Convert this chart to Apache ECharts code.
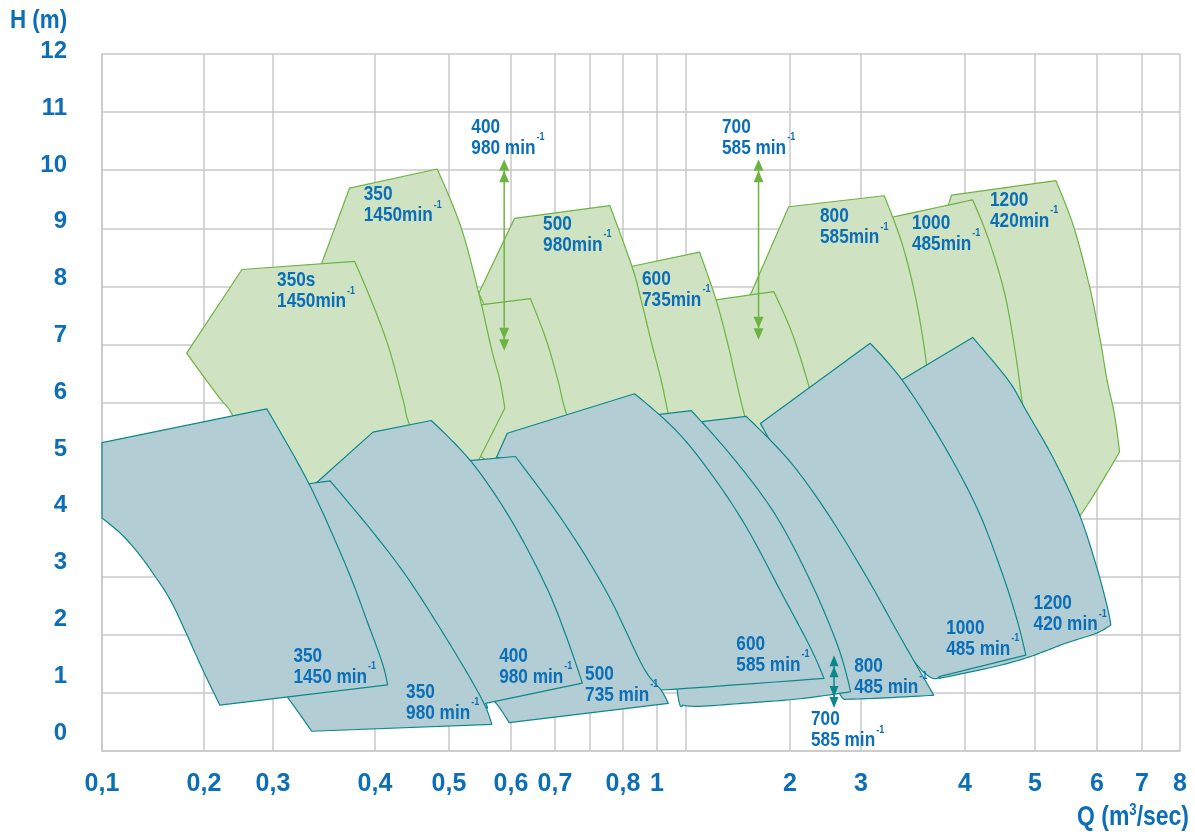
<!DOCTYPE html>
<html>
<head>
<meta charset="utf-8">
<script src="https://cdn.jsdelivr.net/npm/echarts@6/dist/echarts.min.js"></script>
<style>
  html, body { margin: 0; padding: 0; background: #fff; }
  #chart { width: 1195px; height: 836px; }
</style>
</head>
<body>
<div id="chart"></div>
<script>
// ---- Q axis: grid-line values and their spacing along the printed Q scale ----
const Q_GRID  = [0.1, 0.2, 0.3, 0.4, 0.5, 0.6, 0.7, 0.75, 0.8, 1, 1.2, 2, 3, 4, 5, 6, 7, 8];
const Q_SCALE = [0, 102, 171, 273, 347, 409, 453, 488, 521, 555, 584, 688, 759, 863, 933, 995, 1040, 1078];
const Q_TICKS = [0.1, 0.2, 0.3, 0.4, 0.5, 0.6, 0.7, 0.8, 1, 2, 3, 4, 5, 6, 7, 8];
const Q_TICK_LABELS = ['0,1', '0,2', '0,3', '0,4', '0,5', '0,6', '0,7', '0,8', '1', '2', '3', '4', '5', '6', '7', '8'];
const H_MIN = 0, H_MAX = 12, H_STEP = 1;

// ---- Operating fields, [Q m3/s, H m] outlines (green: upper fields) ----
const G_1200_420  = [[3.870,9.57],[5.337,9.82],[5.623,9.03],[5.881,7.99],[6.071,7.08],[6.222,6.39],[6.384,5.81],[6.502,5.15],[5.710,4.03],[5.242,3.63],[3.952,5.18],[3.760,9.14],[3.837,9.40]];
const G_1000_485  = [[3.326,9.20],[4.110,9.49],[4.339,8.80],[4.566,7.88],[4.714,6.90],[4.814,6.04],[4.871,5.70],[4.500,5.18],[3.375,5.35],[3.231,9.16]];
const G_800_585   = [[1.990,9.37],[3.223,9.56],[3.394,8.74],[3.529,7.77],[3.632,6.62],[3.663,5.70],[2.141,5.53],[1.615,7.44]];
const G_700_585   = [[1.346,7.74],[1.875,7.91],[2.031,7.19],[2.255,6.33],[2.352,5.87],[2.352,5.53],[1.462,5.35]];
const G_600_735   = [[0.812,8.32],[1.304,8.59],[1.431,7.77],[1.527,6.96],[1.585,6.39],[1.649,5.79],[1.769,4.84],[0.959,4.84]];
const G_500_980   = [[0.608,9.17],[0.780,9.39],[0.853,8.34],[0.906,7.77],[0.971,6.99],[1.028,6.39],[1.076,5.82],[1.159,4.84],[0.707,4.84],[0.548,7.88]];
const G_400_980   = [[0.551,7.68],[0.644,7.79],[0.680,7.08],[0.704,6.39],[0.716,5.82],[0.743,5.01],[0.582,4.84],[0.547,5.10]];
const G_350_1450  = [[0.375,9.69],[0.484,10.02],[0.519,9.03],[0.548,7.88],[0.569,6.90],[0.582,6.39],[0.590,5.90],[0.548,5.01],[0.488,4.67],[0.356,4.84],[0.326,7.39],[0.348,8.41]];
const G_350S_1450 = [[0.183,6.85],[0.255,8.29],[0.380,8.43],[0.396,7.77],[0.418,6.97],[0.438,6.04],[0.446,5.64],[0.474,4.84],[0.346,4.32],[0.281,4.84],[0.241,5.79],[0.225,6.04],[0.203,6.39]];

// ---- Operating fields (blue: lower fields) ----
const B_1200_420 = [[3.394,6.39],[4.110,7.12],[4.614,6.39],[4.869,5.87],[5.310,5.01],[5.710,4.09],[5.994,3.17],[6.229,2.48],[6.307,2.17],[5.994,2.03],[5.481,1.85],[4.920,1.62],[4.414,1.45],[3.750,1.25],[3.663,2.60]];
const B_1000_485 = [[1.772,5.64],[3.088,7.02],[3.394,6.39],[3.768,5.35],[4.161,4.21],[4.514,3.12],[4.743,2.26],[4.869,1.65],[3.751,1.28],[3.548,1.46],[2.704,3.29]];
const B_800_485  = [[1.323,5.67],[1.663,5.76],[1.990,5.01],[2.530,4.09],[3.053,3.00],[3.394,1.91],[3.700,0.96],[3.183,0.91],[2.775,0.89],[2.634,1.14],[2.141,2.60],[1.615,4.67]];
const B_700_585  = [[1.005,5.79],[1.241,5.86],[1.554,5.07],[1.881,4.09],[2.282,2.94],[2.676,1.80],[2.854,1.02],[2.141,0.90],[1.692,0.83],[1.308,0.77],[1.176,0.79],[1.139,1.05],[1.055,3.29]];
const B_600_585  = [[0.576,5.04],[0.594,5.47],[0.868,6.15],[1.127,5.53],[1.391,4.78],[1.663,3.86],[1.935,2.72],[2.280,1.80],[2.480,1.25],[1.029,1.05],[0.959,1.08],[0.707,3.29],[0.598,4.84]];
const B_500_735  = [[0.533,5.00],[0.610,5.07],[0.713,3.93],[0.776,2.72],[0.918,1.45],[1.028,1.05],[1.078,0.82],[0.597,0.49],[0.576,0.82],[0.550,1.05]];
const B_400_980  = [[0.344,4.64],[0.398,5.49],[0.476,5.69],[0.536,4.98],[0.600,3.98],[0.680,2.83],[0.718,1.91],[0.739,1.17],[0.559,0.82],[0.534,1.05],[0.356,3.98]];
const B_350_980  = [[0.326,4.58],[0.356,4.65],[0.396,3.81],[0.443,3.00],[0.492,2.03],[0.536,1.22],[0.559,0.76],[0.569,0.46],[0.338,0.34],[0.314,0.93],[0.307,1.05]];
const B_350_1450 = [[0.100,5.31],[0.291,5.89],[0.335,4.61],[0.372,3.17],[0.393,2.20],[0.410,1.51],[0.417,1.14],[0.223,0.79],[0.199,1.39],[0.182,2.05],[0.167,2.60],[0.150,3.06],[0.134,3.44],[0.118,3.75],[0.100,4.01]];

// drawing order: back to front
const GREEN_FIELDS = [G_1200_420, G_1000_485, G_800_585, G_700_585, G_600_735, G_500_980, G_400_980, G_350_1450, G_350S_1450];
const BLUE_FIELDS  = [B_1200_420, B_1000_485, B_800_485, B_700_585, B_600_585, B_500_735, B_400_980, B_350_980, B_350_1450];

// ---- Field captions: pump size / speed, anchored at [Q, H] (top-left of caption) ----
const GREEN_CAPTIONS = [['350s','1450min'],['350','1450min'],['400','980 min'],['500','980min'],['600','735min'],['700','585 min'],['800','585min'],['1000','485min'],['1200','420min']];
const GREEN_CAPTION_AT = [[0.304,8.28],[0.389,9.76],[0.536,10.92],[0.673,9.25],[0.912,8.30],[1.477,10.92],[2.423,9.38],[3.490,9.27],[4.357,9.66]];
const BLUE_CAPTIONS = [['350','1450 min'],['350','980 min'],['400','980 min'],['500','735 min'],['600','585 min'],['700','585 min'],['800','485 min'],['1000','485 min'],['1200','420 min']];
const BLUE_CAPTION_AT = [[0.320,1.81],[0.442,1.19],[0.581,1.81],[0.743,1.50],[1.587,2.02],[2.296,0.72],[2.904,1.64],[3.819,2.30],[4.980,2.72]];

// ---- Pointer arrows: [Q, H of upper tip, H of lower tip] ----
const GREEN_ARROWS = [[0.589, 10.19, 6.89], [1.758, 10.19, 7.08]];
const BLUE_ARROWS  = [[2.62, 1.65, 0.74]];

// ---- styling ----
const FONT = "'Liberation Sans', Arial, Helvetica, sans-serif";
const TEXT_BLUE = '#0b6eb7';
const GRID_GRAY = '#c9c9c9';
const GREEN_FILL = '#cfe3c3', GREEN_LINE = '#6db342';
const BLUE_FILL = '#b2ced4', BLUE_LINE = '#0e878c';
const NARROW = 0.82;             // condensed lettering
const CORNER_TURN = Math.PI / 6; // outline vertices turning more than this stay sharp

function qToU(q) {
  const n = Q_GRID.length;
  for (let i = 0; i < n - 1; i++) {
    if (q <= Q_GRID[i + 1] || i === n - 2) {
      const t = (q - Q_GRID[i]) / (Q_GRID[i + 1] - Q_GRID[i]);
      return Q_SCALE[i] + t * (Q_SCALE[i + 1] - Q_SCALE[i]);
    }
  }
}

// Outline path in pixels: sharp at corners, Catmull-Rom curves through the other vertices
function outlinePoints(px) {
  const n = px.length;
  const smooth = px.map((p, i) => {
    const a = px[(i - 1 + n) % n], b = px[(i + 1) % n];
    const d1 = Math.atan2(p[1] - a[1], p[0] - a[0]);
    const d2 = Math.atan2(b[1] - p[1], b[0] - p[0]);
    let t = Math.abs(d2 - d1);
    if (t > Math.PI) t = 2 * Math.PI - t;
    return t < CORNER_TURN;
  });
  const out = [];
  for (let i = 0; i < n; i++) {
    const j = (i + 1) % n;
    const p0 = px[(i - 1 + n) % n], p1 = px[i], p2 = px[j], p3 = px[(i + 2) % n];
    out.push(p1);
    if (!smooth[i] && !smooth[j]) continue;
    const c1 = smooth[i] ? [p1[0] + (p2[0] - p0[0]) / 6, p1[1] + (p2[1] - p0[1]) / 6] : p1;
    const c2 = smooth[j] ? [p2[0] - (p3[0] - p1[0]) / 6, p2[1] - (p3[1] - p1[1]) / 6] : p2;
    for (let k = 1; k < 10; k++) {
      const t = k / 10, u = 1 - t;
      out.push([
        u * u * u * p1[0] + 3 * u * u * t * c1[0] + 3 * u * t * t * c2[0] + t * t * t * p2[0],
        u * u * u * p1[1] + 3 * u * u * t * c1[1] + 3 * u * t * t * c2[1] + t * t * t * p2[1]
      ]);
    }
  }
  return out;
}

const measureCtx = document.createElement('canvas').getContext('2d');
function textWidth(s, size) {
  measureCtx.font = 'bold ' + size + 'px ' + FONT;
  return measureCtx.measureText(s).width;
}

const fields = GREEN_FIELDS.map(p => ({ pts: p, fill: GREEN_FILL, stroke: GREEN_LINE }))
  .concat(BLUE_FIELDS.map(p => ({ pts: p, fill: BLUE_FILL, stroke: BLUE_LINE })));

const captions = GREEN_CAPTIONS.map((c, i) => ({ lines: c, at: GREEN_CAPTION_AT[i] }))
  .concat(BLUE_CAPTIONS.map((c, i) => ({ lines: c, at: BLUE_CAPTION_AT[i] })));

const arrows = GREEN_ARROWS.map(a => ({ a, color: GREEN_LINE, hw: 5, hh: 11.5 }))
  .concat(BLUE_ARROWS.map(a => ({ a, color: BLUE_LINE, hw: 4.5, hh: 11 })));

const CAP_SIZE = 21, CAP_LINE = 21, SUP_SIZE = 11;

function textEl(x, y, text, size) {
  return {
    type: 'text', x: x, y: y, scaleX: NARROW, silent: true,
    style: { text: text, fontSize: size, fontWeight: 'bold', fontFamily: FONT, fill: TEXT_BLUE, align: 'left', verticalAlign: 'top' }
  };
}

// H tick labels sit slightly above their grid lines, a little more towards the bottom
const hLabelRich = {};
for (let v = H_MIN; v <= H_MAX; v += H_STEP) {
  hLabelRich['h' + v] = {
    fontSize: 24, fontWeight: 'bold', fontFamily: FONT, color: TEXT_BLUE,
    lineHeight: 5 + 2.6 * (H_MAX - v)
  };
}

const chart = echarts.init(document.getElementById('chart'), null, { renderer: 'canvas' });

chart.setOption({
  animation: false,
  backgroundColor: '#ffffff',
  grid: { left: 102, right: 15, top: 54, bottom: 85, containLabel: false, outerBoundsMode: 'none' },
  xAxis: {
    type: 'value',
    min: 0,
    max: Q_SCALE[Q_SCALE.length - 1],
    axisLine: { show: true, lineStyle: { color: GRID_GRAY, width: 1.5 } },
    axisTick: { show: false, customValues: Q_GRID.map(qToU) },
    splitLine: { show: true, lineStyle: { color: GRID_GRAY, width: 1.5 } },
    axisLabel: {
      customValues: Q_TICKS.map(qToU),
      formatter: function (v) {
        let best = 0;
        Q_TICKS.forEach((q, i) => { if (Math.abs(qToU(q) - v) < Math.abs(qToU(Q_TICKS[best]) - v)) best = i; });
        return Q_TICK_LABELS[best];
      },
      margin: 21,
      fontSize: 25, fontWeight: 'bold', fontFamily: FONT, color: TEXT_BLUE,
      showMinLabel: true, showMaxLabel: true, hideOverlap: false
    }
  },
  yAxis: {
    type: 'value',
    min: H_MIN, max: H_MAX, interval: H_STEP,
    axisLine: { show: true, lineStyle: { color: GRID_GRAY, width: 1.5 } },
    axisTick: { show: false },
    splitLine: { show: true, lineStyle: { color: GRID_GRAY, width: 1.5 } },
    axisLabel: {
      margin: 35,
      verticalAlign: 'bottom',
      formatter: v => '{h' + v + '|' + v + '}',
      rich: hLabelRich,
      fontSize: 24, fontWeight: 'bold', fontFamily: FONT, color: TEXT_BLUE
    }
  },
  graphic: [
    {
      type: 'text', x: 10, y: 8, scaleX: 0.86, silent: true,
      style: { text: 'H (m)', fontSize: 26, fontWeight: 'bold', fontFamily: FONT, fill: TEXT_BLUE, align: 'left', verticalAlign: 'top' }
    },
    {
      type: 'text', x: 1189, y: 803, scaleX: NARROW, silent: true,
      style: {
        text: '{t|Q (m}{s|3}{t|/sec)}',
        align: 'right', verticalAlign: 'top',
        rich: {
          t: { fontSize: 28, lineHeight: 28, fontWeight: 'bold', fontFamily: FONT, fill: TEXT_BLUE, verticalAlign: 'bottom' },
          s: { fontSize: 16, lineHeight: 16, fontWeight: 'bold', fontFamily: FONT, fill: TEXT_BLUE, verticalAlign: 'top' }
        }
      }
    }
  ],
  series: [
    {
      name: 'fields',
      type: 'custom',
      silent: true,
      encode: { x: 0, y: 1 },
      data: fields.map(f => [qToU(f.pts[0][0]), f.pts[0][1]]),
      renderItem: function (params, api) {
        const f = fields[params.dataIndex];
        const px = f.pts.map(p => api.coord([qToU(p[0]), p[1]]));
        return {
          type: 'polygon',
          shape: { points: outlinePoints(px) },
          style: { fill: f.fill, stroke: f.stroke, lineWidth: 1.2, lineJoin: 'round' }
        };
      }
    },
    {
      name: 'arrows',
      type: 'custom',
      silent: true,
      encode: { x: 0, y: 1 },
      data: arrows.map(r => [qToU(r.a[0]), r.a[1]]),
      renderItem: function (params, api) {
        const r = arrows[params.dataIndex];
        const top = api.coord([qToU(r.a[0]), r.a[1]]);
        const bot = api.coord([qToU(r.a[0]), r.a[2]]);
        const x = top[0], hw = r.hw, hh = r.hh;
        const head = (tipY, dir) => ({
          type: 'polygon',
          shape: { points: [[x, tipY], [x - hw, tipY + dir * hh], [x + hw, tipY + dir * hh]] },
          style: { fill: r.color }
        });
        return {
          type: 'group',
          children: [
            { type: 'line', shape: { x1: x, y1: top[1] + hh, x2: x, y2: bot[1] - hh }, style: { stroke: r.color, lineWidth: 1.5 } },
            head(top[1], 1), head(top[1] + hh, 1),
            head(bot[1], -1), head(bot[1] - hh, -1)
          ]
        };
      }
    },
    {
      name: 'captions',
      type: 'custom',
      silent: true,
      encode: { x: 0, y: 1 },
      data: captions.map(c => [qToU(c.at[0]), c.at[1]]),
      renderItem: function (params, api) {
        const c = captions[params.dataIndex];
        const p = api.coord([qToU(c.at[0]), c.at[1]]);
        const w2 = textWidth(c.lines[1], CAP_SIZE) * NARROW;
        return {
          type: 'group',
          x: p[0], y: p[1],
          children: [
            textEl(0, 0, c.lines[0], CAP_SIZE),
            textEl(0, CAP_LINE, c.lines[1], CAP_SIZE),
            textEl(w2 + 1, CAP_LINE - 6, '-1', SUP_SIZE)
          ]
        };
      }
    }
  ]
});
</script>
</body>
</html>
